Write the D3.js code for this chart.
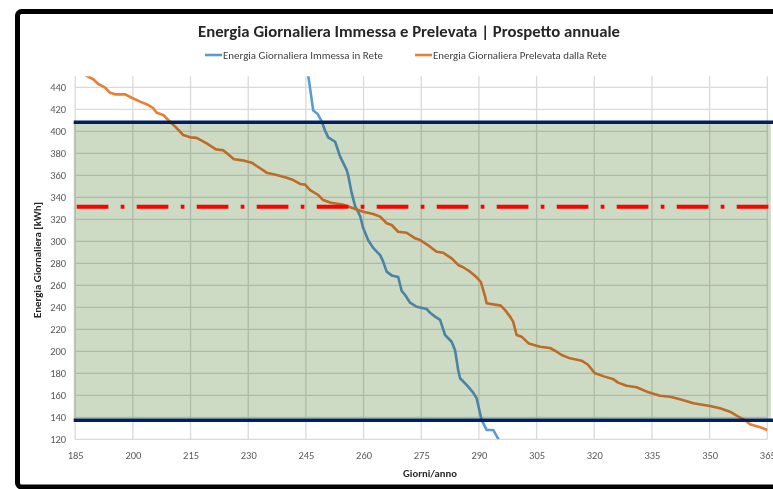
<!DOCTYPE html>
<html><head><meta charset="utf-8">
<script src="https://cdn.jsdelivr.net/npm/d3@7"></script>
<style>
html,body{margin:0;padding:0;background:#fff;}
svg{display:block;}
text{font-family:Carlito, Lato, "Open Sans", sans-serif;}
</style></head>
<body>
<svg id="c" width="773" height="489"></svg>
<script>
// ---- data ----
const title = "Energia Giornaliera Immessa e Prelevata | Prospetto annuale";
const seriesNames = ["Energia Giornaliera Immessa in Rete", "Energia Giornaliera Prelevata dalla Rete"];
const xTicks = [185,200,215,230,245,260,275,290,305,320,335,350,365];
const yTicks = [120,140,160,180,200,220,240,260,280,300,320,340,360,380,400,420,440];
const bandLimits = [137.3, 408.2];   // lower / upper threshold (navy lines)
const meanLine = [331.5];            // red dash-dot line

const immDays = [245.6,246.9,248,249.1,250,250.8,252.6,253.9,255.6,256,256.9,257.8,259.1,259.9,261.2,262.5,264.3,265.1,266,267.3,269,269.9,270.8,272.1,273.8,276.4,277.3,278.6,279.9,281.2,282.9,283.8,284.6,285.1,286.8,288.5,289.4,290.7,292,293.7,295.1];
const immVals = [451,419,416,409,400.5,394.5,390.5,377,365,360,344,332,323,312,301,294,287.5,281.5,272.4,269,267.5,255,251.2,244.2,240.5,238.5,235,231.5,228.5,214.8,208.7,201,183,175.5,169.4,162.4,157.3,137.5,128.5,128.5,120];

const prelDays = [187.6,189.7,191,192.7,194.1,195.4,198,199.7,201.9,204,205.3,206.2,207.9,209.2,211,212.3,213.1,214.9,216.6,219.2,221.6,223.5,226.3,228.5,230.9,232.4,233.1,234.8,237.4,240,241.7,243.5,244.8,246.1,248.2,249.5,251.5,254.5,257.3,259.9,262.5,264.3,266,267.3,269,271.2,273.4,274.7,277.3,279,280.7,282.9,284.6,285.9,287.7,289.4,290.5,291.6,292,295.7,296.8,298.1,298.9,299.8,301.1,303,305.9,308.5,310.2,311.5,313.7,316.7,318.3,320.2,322.5,325,326.2,328.4,331,334.1,337.1,339.7,342.3,345.8,350.1,352.7,355.3,357.5,359.2,360.5,362.7,365];
const prelVals = [451,447.3,443,440,435,433.6,433.6,430.5,427,423.9,421,416.8,414.8,410.3,404.2,399.6,396.6,394.5,394,389,383.6,382.7,374.6,373.6,371.5,368,366.4,362.4,360.3,357.8,355.7,352.1,351.5,346.6,342.1,337.5,335.1,333.5,330,326.9,324.8,322.4,316.4,314.8,308.7,307.8,302.7,301.2,295.1,290.5,289.6,284.5,278.5,276.4,272.4,267.3,263,250,243.6,241.5,237.5,231.5,227,214.8,213.3,207,204.2,203,199.6,196.6,193.6,191.5,188,180,177.2,174.5,171.5,168.7,167.3,162.7,159.6,158.7,156.4,152.7,150.3,148.2,145.1,140.5,137.5,133.6,131.5,128.5];

// ---- drawing ----
const svg = d3.select("#c");
const x = d3.scaleLinear().domain([185,365]).range([75.2,767.3]);
const y = d3.scaleLinear().domain([120,450]).range([439.3,76.3]);

svg.append("rect").attr("x",0).attr("y",0).attr("width",773).attr("height",489).attr("fill","#fff");

svg.append("defs").append("clipPath").attr("id","pc")
  .append("rect").attr("x",x(185)).attr("y",y(450)).attr("width",x(365)-x(185)).attr("height",y(120)-y(450));

// gridlines
const g = svg.append("g");
g.selectAll("line.h").data(yTicks).join("line")
  .attr("x1",x(185)).attr("x2",x(365)).attr("y1",d=>y(d)).attr("y2",d=>y(d))
  .attr("stroke","#d9d9d9").attr("stroke-width",1.3);
g.selectAll("line.v").data(xTicks).join("line")
  .attr("y1",y(450)).attr("y2",y(120)).attr("x1",d=>x(d)).attr("x2",d=>x(d))
  .attr("stroke","#d9d9d9").attr("stroke-width",1.3);

// lines
const line = d3.line().x(d=>x(d[0])).y(d=>y(d[1]));
const lg = svg.append("g").attr("clip-path","url(#pc)");
lg.append("path").datum(immDays.map((d,i)=>[d,immVals[i]]))
  .attr("d",line).attr("fill","none").attr("stroke","#5b9bd5").attr("stroke-width",2.6).attr("stroke-linejoin","round");
lg.append("path").datum(prelDays.map((d,i)=>[d,prelVals[i]]))
  .attr("d",line).attr("fill","none").attr("stroke","#ed7d31").attr("stroke-width",2.6).attr("stroke-linejoin","round");

// green band (multiplied over lines and grid)
svg.append("rect")
  .attr("x",x(185)-1.5).attr("width",x(365)-x(185)+5)
  .attr("y",y(bandLimits[1])).attr("height",y(bandLimits[0])-y(bandLimits[1]))
  .attr("fill","#cddac4").style("mix-blend-mode","multiply");

// threshold lines
svg.selectAll("line.lim").data(bandLimits).join("line")
  .attr("x1",x(185)-1.5).attr("x2",780).attr("y1",d=>y(d)).attr("y2",d=>y(d))
  .attr("stroke","#002060").attr("stroke-width",3.6);
svg.selectAll("line.mean").data(meanLine).join("line")
  .attr("x1",x(185)+1.5).attr("x2",780).attr("y1",d=>y(d)).attr("y2",d=>y(d))
  .attr("stroke","#ff0000").attr("stroke-width",4).attr("stroke-dasharray","31.7,12.3,3.7,12.3");

// axes labels
const xa = svg.append("g").attr("transform",`translate(0,${y(120)})`)
  .call(d3.axisBottom(x).tickValues(xTicks).tickSize(0).tickPadding(12).tickFormat(d3.format("d")));
xa.select(".domain").remove();
xa.selectAll("text").attr("fill","#595959").style("font-size","10.5px").style("font-family","Carlito, Lato, sans-serif");
const ya = svg.append("g").attr("transform",`translate(${x(185)},0)`)
  .call(d3.axisLeft(y).tickValues(yTicks).tickSize(0).tickPadding(9).tickFormat(d3.format("d")));
ya.select(".domain").remove();
ya.selectAll("text").attr("fill","#595959").style("font-size","10.5px").style("font-family","Carlito, Lato, sans-serif");

// fit helper
function fit(sel, w){
  const n = sel.node(); const cur = parseFloat(sel.style("font-size"));
  const m = n.getComputedTextLength(); if(m>0) sel.style("font-size",(cur*w/m)+"px");
}

// title
const t = svg.append("text").attr("x",409).attr("y",37).attr("text-anchor","middle")
  .attr("fill","#262626").style("font-weight","bold").style("font-size","16px").text(title);
fit(t,422);

// legend
const legColors = ["#5b9bd5","#ed7d31"];
const legX = [205,415], legW = [160,174];
seriesNames.forEach((s,i)=>{
  svg.append("line").attr("x1",legX[i]).attr("x2",legX[i]+17).attr("y1",55).attr("y2",55)
    .attr("stroke",legColors[i]).attr("stroke-width",2.6);
  const tt = svg.append("text").attr("x",legX[i]+18).attr("y",58.5).attr("fill","#404040")
    .style("font-size","10px").text(s);
  fit(tt,legW[i]);
});

// axis titles
const yt = svg.append("text").attr("transform","translate(40.5,260) rotate(-90)").attr("text-anchor","middle")
  .attr("fill","#262626").style("font-weight","bold").style("font-size","10px").text("Energia Giornaliera [kWh]");
fit(yt,116);
const xt = svg.append("text").attr("x",430).attr("y",476.5).attr("text-anchor","middle")
  .attr("fill","#262626").style("font-weight","bold").style("font-size","10.5px").text("Giorni/anno");
fit(xt,54);

// outer frame
svg.append("rect").attr("x",17.5).attr("y",11.5).attr("width",800).attr("height",475.5).attr("rx",4)
  .attr("fill","none").attr("stroke","#000").attr("stroke-width",5);
</script>
</body></html>
